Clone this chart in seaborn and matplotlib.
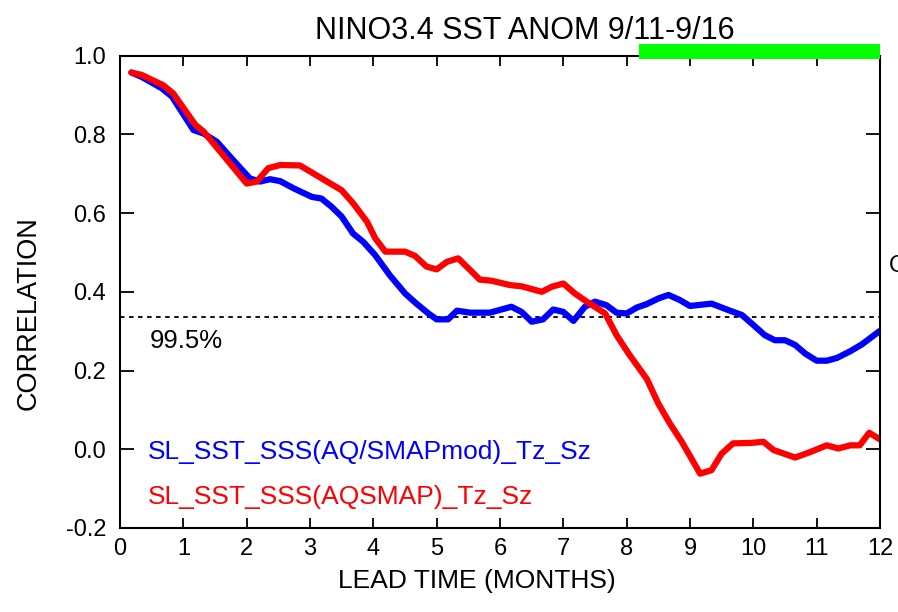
import numpy as np
import pandas as pd
import matplotlib
matplotlib.use("Agg")
import matplotlib.pyplot as plt
import seaborn as sns
from matplotlib.patches import Rectangle

# lead time (months) and correlation
lead_blue = [0.18, 0.34, 0.66, 0.82, 1.16, 1.32, 1.53, 1.74, 2.05, 2.21, 2.37, 2.53,
             2.74, 3.03, 3.18, 3.34, 3.50, 3.68, 3.84, 4.03, 4.26, 4.50, 4.68, 4.87,
             5.00, 5.18, 5.32, 5.53, 5.84, 6.18, 6.34, 6.50, 6.68, 6.84, 7.00, 7.16,
             7.34, 7.50, 7.68, 7.84, 8.00, 8.16, 8.32, 8.50, 8.66, 8.84, 9.00, 9.34,
             9.63, 9.82, 9.97, 10.18, 10.34, 10.50, 10.66, 10.82, 11.00, 11.16, 11.32,
             11.53, 11.71, 12.00]
corr_blue = [0.957, 0.946, 0.917, 0.896, 0.811, 0.802, 0.781, 0.743, 0.688, 0.680,
             0.686, 0.681, 0.663, 0.641, 0.637, 0.616, 0.591, 0.548, 0.527, 0.493,
             0.442, 0.396, 0.370, 0.345, 0.330, 0.330, 0.352, 0.347, 0.347, 0.362,
             0.349, 0.324, 0.330, 0.355, 0.349, 0.326, 0.362, 0.375, 0.366, 0.347,
             0.345, 0.360, 0.369, 0.383, 0.392, 0.379, 0.364, 0.370, 0.352, 0.341,
             0.320, 0.290, 0.277, 0.277, 0.265, 0.243, 0.225, 0.225, 0.232, 0.249,
             0.266, 0.301]

lead_red = [0.18, 0.34, 0.68, 0.84, 1.19, 1.32, 2.00, 2.16, 2.34, 2.53, 2.84, 3.50,
            3.68, 3.90, 4.03, 4.19, 4.50, 4.66, 4.84, 5.00, 5.16, 5.34, 5.53, 5.68,
            5.87, 6.16, 6.34, 6.66, 6.82, 7.00, 7.18, 7.37, 7.66, 7.84, 8.03, 8.32,
            8.50, 8.68, 8.87, 9.16, 9.34, 9.50, 9.68, 9.95, 10.16, 10.32, 10.66, 10.90,
            11.16, 11.34, 11.53, 11.68, 11.83, 12.00]
corr_red = [0.957, 0.951, 0.925, 0.904, 0.824, 0.807, 0.675, 0.680, 0.714, 0.722,
            0.721, 0.658, 0.625, 0.578, 0.536, 0.502, 0.502, 0.491, 0.464, 0.457,
            0.476, 0.485, 0.455, 0.431, 0.428, 0.417, 0.414, 0.400, 0.413, 0.421,
            0.396, 0.375, 0.345, 0.290, 0.243, 0.178, 0.116, 0.066, 0.019, -0.062,
            -0.053, -0.011, 0.015, 0.016, 0.019, -0.002, -0.021, -0.007, 0.010,
            0.002, 0.010, 0.010, 0.042, 0.025]

names = ["SL_SST_SSS(AQ/SMAPmod)_Tz_Sz", "SL_SST_SSS(AQSMAP)_Tz_Sz"]
colors = ["#0000ff", "#ff0000"]
sig_level = 0.336          # 99.5% significance
green_span = (8.2, 12.0)   # bar above the plot

sns.set_style("ticks")
plt.rcParams['font.family'] = ['Liberation Sans', 'DejaVu Sans']
plt.rcParams['axes.unicode_minus'] = False
for key in ['text.color', 'axes.labelcolor', 'xtick.color', 'ytick.color', 'axes.edgecolor']:
    plt.rcParams[key] = 'black'

fig = plt.figure(figsize=(8.98, 6.12), dpi=100)
ax = fig.add_axes([120 / 898, 1 - 528 / 612, 760 / 898, (528 - 55.6) / 612])

sns.lineplot(x=lead_blue, y=corr_blue, sort=False, estimator=None,
             color=colors[0], linewidth=4.5, ax=ax)
sns.lineplot(x=lead_red, y=corr_red, sort=False, estimator=None,
             color=colors[1], linewidth=4.5, ax=ax)

ax.axhline(sig_level, color='black', linewidth=1.3, linestyle=(0, (2.5, 2.5)), zorder=1)
ax.text(0.47, 0.275, '99.5%', fontsize=18.5, ha='left', va='center')

ax.text(0.44, -0.007, names[0], color=colors[0], fontsize=19, ha='left', va='center')
ax.text(0.44, -0.122, names[1], color=colors[1], fontsize=19, ha='left', va='center')

ax.add_patch(Rectangle((green_span[0], 0.991), green_span[1] - green_span[0], 0.038,
                       facecolor='#00ff00', edgecolor='none', clip_on=False, zorder=5))

ax.set_xlim(0, 12)
ax.set_ylim(-0.2, 1.0)
ax.set_xticks(range(0, 13))
ax.set_yticks(np.arange(-0.2, 1.01, 0.2))
ax.set_yticklabels([f'{v:.1f}' for v in np.arange(-0.2, 1.01, 0.2)])

for side in ['top', 'right', 'left', 'bottom']:
    ax.spines[side].set_visible(True)
    ax.spines[side].set_linewidth(1.5)
    ax.spines[side].set_color('black')

ax.tick_params(axis='x', direction='in', length=7, width=1.3, top=True,
               labelsize=17, pad=7)
ax.tick_params(axis='y', direction='in', length=10, width=1.3, right=True,
               labelsize=17, pad=10)

ax.set_xlabel('LEAD TIME (MONTHS)', fontsize=19)
ax.set_ylabel('CORRELATION', fontsize=19.5)
ax.xaxis.set_label_coords(0.47, -0.087)
ax.yaxis.set_label_coords(-0.103, 0.455)
ax.set_title('NINO3.4 SST ANOM 9/11-9/16', fontsize=22, pad=12, x=0.532)

# partly visible glyph at the right edge
fig.text(889 / 898, 1 - 266 / 612, 'O', fontsize=17, ha='left', va='center')

fig.savefig('out.png', dpi=100, facecolor='white')
